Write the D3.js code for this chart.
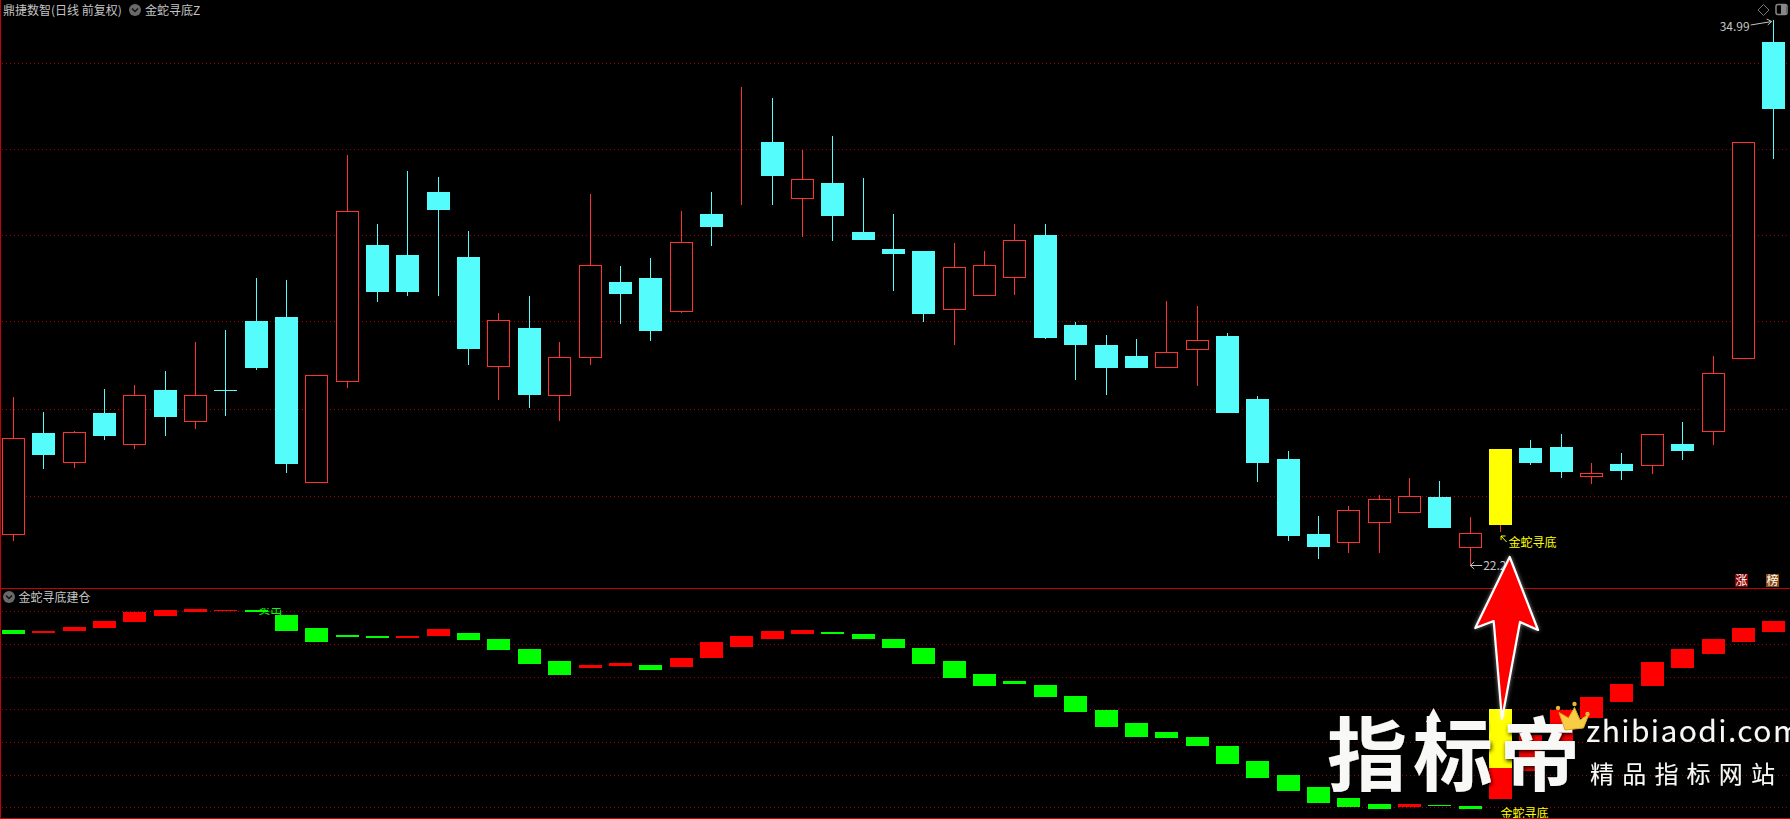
<!DOCTYPE html>
<html lang="zh">
<head>
<meta charset="utf-8">
<title>金蛇寻底</title>
<script src="https://cdnjs.cloudflare.com/ajax/libs/d3/7.8.5/d3.min.js"></script>
<style>
html,body{margin:0;padding:0;background:#000;overflow:hidden}
svg{display:block}
text{font-family:"Noto Sans CJK SC","Noto Sans",sans-serif}
</style>
</head>
<body>
<svg id="chart" width="1790" height="819"></svg>
<script>
// Candlestick values (price units)
const opens  = [22.93,25.30,24.60,25.76,25.04,26.30,25.56,26.30,27.93,28.02,24.15,26.52,29.71,29.48,30.95,29.43,26.87,27.76,26.17,27.06,28.84,28.93,28.17,30.44,31.20,32.13,30.82,31.16,30.01,29.62,29.57,28.21,28.52,28.94,29.94,27.83,27.36,27.10,26.83,27.25,27.57,26.09,24.69,22.93,22.74,23.19,23.45,23.79,22.63,24.92,24.94,24.97,24.27,24.57,24.55,25.04,25.33,27.04,34.47];
const highs  = [26.14,25.79,25.34,26.33,26.42,26.75,27.43,27.71,28.93,28.89,26.65,31.82,30.20,31.45,31.31,30.04,28.11,28.51,27.43,30.91,29.21,29.40,30.51,30.95,33.42,33.16,31.95,32.27,31.28,30.44,29.57,29.76,29.57,30.20,30.20,27.90,27.60,27.50,28.39,28.28,27.64,26.16,24.87,23.35,23.58,23.84,24.24,24.17,23.32,24.92,25.13,25.27,24.59,24.83,25.27,25.55,27.10,32.12,34.99];
const lows   = [22.76,24.45,24.48,25.14,24.93,25.22,25.40,25.69,26.78,24.36,24.15,26.36,28.37,28.51,28.51,26.90,26.07,25.88,25.58,26.90,27.85,27.46,28.11,29.69,30.65,30.65,29.90,29.80,29.83,28.63,27.90,27.36,28.52,28.53,27.50,26.54,26.19,26.82,26.83,26.40,25.76,24.15,22.76,22.34,22.48,22.48,23.45,23.07,22.20,22.97,24.54,24.24,24.10,24.19,24.33,24.66,25.01,27.04,31.73];
const closes = [25.19,24.78,25.31,25.22,26.18,25.67,26.18,26.29,26.82,24.57,26.65,30.50,28.61,28.61,30.53,27.27,27.94,26.19,27.07,29.23,28.56,27.69,29.79,30.13,31.21,31.33,31.27,30.39,29.83,29.50,28.09,29.19,29.23,29.82,27.53,27.36,26.82,26.82,27.19,27.47,25.76,24.59,22.88,22.62,23.50,23.74,23.83,23.07,22.96,23.14,24.59,24.38,24.35,24.40,25.27,24.87,26.70,32.12,32.90];

// Lower indicator panel: 金蛇寻底建仓
const subOpen  = [54.3,53.4,54.0,54.9,56.7,58.6,59.8,60.1,60.4,58.9,54.9,52.7,52.4,51.8,52.4,53.4,51.5,48.5,44.8,42.6,43.3,43.6,42.9,45.7,49.1,51.5,53.1,53.7,53.1,51.5,48.8,44.8,40.8,38.7,37.4,34.1,29.8,25.8,23.0,21.5,18.8,14.2,9.9,6.2,2.8,1.0,0.1,0.7,0.4,2.5,11.1,20.0,27.3,32.2,37.1,42.6,46.9,50.6,53.7];
const subClose = [53.1,54.0,55.2,57.0,59.8,60.4,60.7,60.4,59.8,54.0,50.6,52.1,51.8,52.4,54.6,51.2,48.2,43.9,40.5,43.6,44.2,42.0,45.7,50.6,52.4,54.0,54.3,53.1,51.5,48.8,43.9,39.6,37.1,37.7,33.8,29.2,24.6,21.5,21.2,18.8,13.3,9.0,5.0,1.3,0.1,-0.5,1.0,0.4,-0.5,30.1,22.1,29.8,33.8,37.7,44.5,48.5,51.5,54.9,57.0];

// Signal bar (yellow highlight) and labels
const signalIndex = 49;
const signalSub = [12.0, 30.1];
const priceGrid = [33.98,31.96,29.94,27.92,25.87,23.83]; // horizontal price guides
const subGrid = [0,10,20,30,40,50,60];
const titleMain = "鼎捷数智(日线 前复权)";
const titleFormula = "金蛇寻底Z";
const titleSub = "金蛇寻底建仓";
const signalLabel = "金蛇寻底";
const logoMain = ["指","标","帝"];
const logoUrl = "zhibiaodi.com";
const logoSlogan = "精品指标网站";

const W = 1790, H = 819;
const CYAN="#54fcfc", UP="#ff3232", GREEN="#00ff00", RED="#ff0000", YEL="#ffff00", GRID="#a80000", FRAME="#c80000", TXT="#c4c4c4";

const svg = d3.select("#chart");
svg.append("rect").attr("width",W).attr("height",H).attr("fill","#000");

const idx = d3.range(opens.length);
const x = d3.scalePoint().domain(idx).range([13.4,1773.7]);
const y = d3.scaleLinear().domain([22.20,34.99]).range([565,20]);
const ySub = d3.scaleLinear().domain([0,60]).range([807.3,611.3]);
const bw = 23;
const bodyX = i => Math.round(x(i)-bw/2);
const wickX = i => bodyX(i)+11.5;

// Grid lines
const gridG = svg.append("g").attr("stroke",GRID).attr("stroke-dasharray","1 3").attr("shape-rendering","crispEdges");
gridG.selectAll(".p").data(priceGrid).join("line").attr("class","p")
  .attr("x1",2).attr("x2",1788).attr("y1",d=>Math.round(y(d))+.5).attr("y2",d=>Math.round(y(d))+.5);
gridG.selectAll(".s").data(subGrid).join("line").attr("class","s")
  .attr("x1",2).attr("x2",1788).attr("y1",d=>Math.round(ySub(d))+.5).attr("y2",d=>Math.round(ySub(d))+.5);

// Candles
const candleColor = i => i===signalIndex ? YEL : (closes[i]>=opens[i] ? UP : CYAN);
const isSolid = i => i===signalIndex || closes[i]<opens[i];
const cG = svg.append("g").attr("shape-rendering","crispEdges");
cG.selectAll(".wick").data(idx).join("line").attr("class","wick")
  .attr("x1",wickX).attr("x2",wickX)
  .attr("y1",i=>y(highs[i])).attr("y2",i=>y(lows[i]))
  .attr("stroke",i=>i===signalIndex?UP:candleColor(i)).attr("stroke-width",1);
cG.selectAll(".body").data(idx).join("rect").attr("class","body")
  .attr("x",i=>isSolid(i)?bodyX(i):bodyX(i)+.5)
  .attr("width",i=>isSolid(i)?bw:bw-1)
  .attr("y",i=>{const t=y(Math.max(opens[i],closes[i]));return isSolid(i)?Math.round(t):Math.round(t)+.5;})
  .attr("height",i=>{const h=Math.abs(y(opens[i])-y(closes[i]));return isSolid(i)?Math.max(1,Math.round(h)):Math.max(0,Math.round(h));})
  .attr("fill",i=>isSolid(i)?candleColor(i):"#000")
  .attr("stroke",i=>isSolid(i)?"none":candleColor(i))
  .attr("stroke-width",1);

// Sub panel bars
const sG = svg.append("g").attr("shape-rendering","crispEdges");
sG.selectAll("rect").data(idx).join("rect")
  .attr("x",bodyX).attr("width",bw)
  .attr("y",i=>Math.round(ySub(Math.max(subOpen[i],subClose[i]))))
  .attr("height",i=>Math.max(1,Math.round(Math.abs(ySub(subOpen[i])-ySub(subClose[i])))))
  .attr("fill",i=>subClose[i]>=subOpen[i]?RED:GREEN);
sG.append("rect").attr("x",bodyX(signalIndex)).attr("width",bw)
  .attr("y",Math.round(ySub(signalSub[1])))
  .attr("height",Math.round(ySub(signalSub[0])-ySub(signalSub[1])))
  .attr("fill",YEL);

// Clipped green label near the top of the sub panel
const defs = svg.append("defs");
defs.append("clipPath").attr("id","clipSell").append("rect").attr("x",250).attr("y",608).attr("width",40).attr("height",7);
defs.append("clipPath").attr("id","clipBottom").append("rect").attr("x",1490).attr("y",800).attr("width",70).attr("height",18);
svg.append("text").attr("x",x(8)+2).attr("y",614).attr("font-size",12).attr("fill",GREEN)
  .attr("clip-path","url(#clipSell)").text("卖出");

// Frame
svg.append("line").attr("x1",0).attr("x2",W).attr("y1",588.5).attr("y2",588.5).attr("stroke",FRAME).attr("shape-rendering","crispEdges");
svg.append("line").attr("x1",0).attr("x2",W).attr("y1",818.5).attr("y2",818.5).attr("stroke",FRAME).attr("shape-rendering","crispEdges");
svg.append("line").attr("x1",.5).attr("x2",.5).attr("y1",0).attr("y2",H).attr("stroke",FRAME).attr("shape-rendering","crispEdges");

// Titles
function chevron(cx,cy){
  const g=svg.append("g");
  g.append("circle").attr("cx",cx).attr("cy",cy).attr("r",6).attr("fill","#6a6a6a");
  g.append("path").attr("d",`M${cx-3},${cy-1.5}L${cx},${cy+1.5}L${cx+3},${cy-1.5}`).attr("fill","none").attr("stroke","#111").attr("stroke-width",1.4);
}
svg.append("text").attr("x",3).attr("y",14.5).attr("font-size",12).attr("fill",TXT).text(titleMain);
chevron(135,10);
svg.append("text").attr("x",145).attr("y",14.5).attr("font-size",12).attr("fill",TXT).text(titleFormula);
chevron(9,597);
svg.append("text").attr("x",18.5).attr("y",602).attr("font-size",12).attr("fill",TXT).text(titleSub);

// Top right icons
svg.append("path").attr("d","M1763.5,4.5L1769,10L1763.5,15.5L1758,10Z").attr("fill","none").attr("stroke","#777");
svg.append("rect").attr("x",1776).attr("y",4.5).attr("width",11).attr("height",10).attr("rx",2).attr("fill","none").attr("stroke","#888").attr("stroke-width",1.5);
svg.append("rect").attr("x",1781).attr("y",5).attr("width",5).attr("height",9).attr("fill","#888");

// Extreme labels
const hi = d3.max(highs), lo = d3.min(lows);
const hiI = highs.indexOf(hi), loI = lows.indexOf(lo);
svg.append("text").attr("x",x(hiI)-54).attr("y",y(hi)+10.5).attr("font-size",12).attr("fill",TXT).text(d3.format(".2f")(hi));
svg.append("path").attr("d",`M${x(hiI)-23},${y(hi)+5}L${x(hiI)-2},${y(hi)+1.5}M${x(hiI)-7},${y(hi)-1}L${x(hiI)-2},${y(hi)+1.5}L${x(hiI)-6},${y(hi)+5}`)
  .attr("fill","none").attr("stroke",TXT);
svg.append("path").attr("d",`M${x(loI)},${y(lo)+.5}H${x(loI)+12}M${x(loI)+4},${y(lo)-3}L${x(loI)},${y(lo)+.5}L${x(loI)+4},${y(lo)+4}`)
  .attr("fill","none").attr("stroke",TXT);
svg.append("text").attr("x",x(loI)+13).attr("y",y(lo)+5).attr("font-size",12).attr("fill",TXT).text(lo.toFixed(1));

// Signal labels
svg.append("path").attr("d",`M${x(signalIndex)+.5},${536}L${x(signalIndex)+6},${542}M${x(signalIndex)+.5},${536}V${540}M${x(signalIndex)+.5},${536}H${x(signalIndex)+5}`)
  .attr("stroke",YEL).attr("fill","none");
svg.append("text").attr("x",x(signalIndex)+8).attr("y",547).attr("font-size",12).attr("fill",YEL).text(signalLabel);
svg.append("text").attr("x",x(signalIndex)).attr("y",818).attr("font-size",12).attr("fill",YEL)
  .attr("clip-path","url(#clipBottom)").text(signalLabel);

// Badges
[["涨",1735,"#8a0000"],["榜",1766,"#8a4a10"]].forEach(([t,bx,c])=>{
  svg.append("rect").attr("x",bx).attr("y",574).attr("width",13).attr("height",13).attr("fill",c);
  svg.append("text").attr("x",bx+6.5).attr("y",585).attr("text-anchor","middle").attr("font-size",12).attr("fill","#fff").text(t);
});

// Watermark
const shadow = defs.append("filter").attr("id","glow").attr("x","-20%").attr("y","-20%").attr("width","140%").attr("height","140%");
shadow.append("feDropShadow").attr("dx",1).attr("dy",2).attr("stdDeviation",2).attr("flood-color","#000").attr("flood-opacity",.9);
const logo = svg.append("g").attr("filter","url(#glow)").attr("fill","#f8f9f6");
logo.selectAll(".big").data(logoMain).join("text").attr("class","big")
  .attr("x",(d,i)=>[1367,1453,1540][i]).attr("y",784).attr("text-anchor","middle")
  .attr("font-size",80).attr("font-weight",700).text(d=>d);
logo.append("path").attr("d","M1433.5,708L1441,722H1436V730H1431V722H1426Z");
logo.append("text").attr("x",1586).attr("y",742).attr("font-family","Lato,'Open Sans',sans-serif").attr("font-size",30).attr("letter-spacing",1.4).text(logoUrl);
logo.append("text").attr("x",1590).attr("y",783).attr("font-size",24).attr("letter-spacing",8.2).text(logoSlogan);

// Crown
const crown = svg.append("g");
crown.append("path").attr("d","M1565,730L1559,712.5L1568.5,718L1574.5,707.5L1580,720L1589,714L1583.5,728Z").attr("fill","#f6cd45").attr("stroke","#e0a820");
[[1558,708],[1574.5,704],[1587.5,714]].forEach(p=>crown.append("circle").attr("cx",p[0]).attr("cy",p[1]).attr("r",2.2).attr("fill","#e8b830"));

// Big red arrow
svg.append("path")
  .attr("d","M1509.7,557L1538,630L1520,622L1502,719L1493.7,621L1475.3,628Z")
  .attr("fill",RED).attr("stroke","#fff").attr("stroke-width",2.2).attr("stroke-linejoin","round")
  .style("filter","drop-shadow(0 0 2px rgba(255,255,255,.5))");
</script>
</body>
</html>
